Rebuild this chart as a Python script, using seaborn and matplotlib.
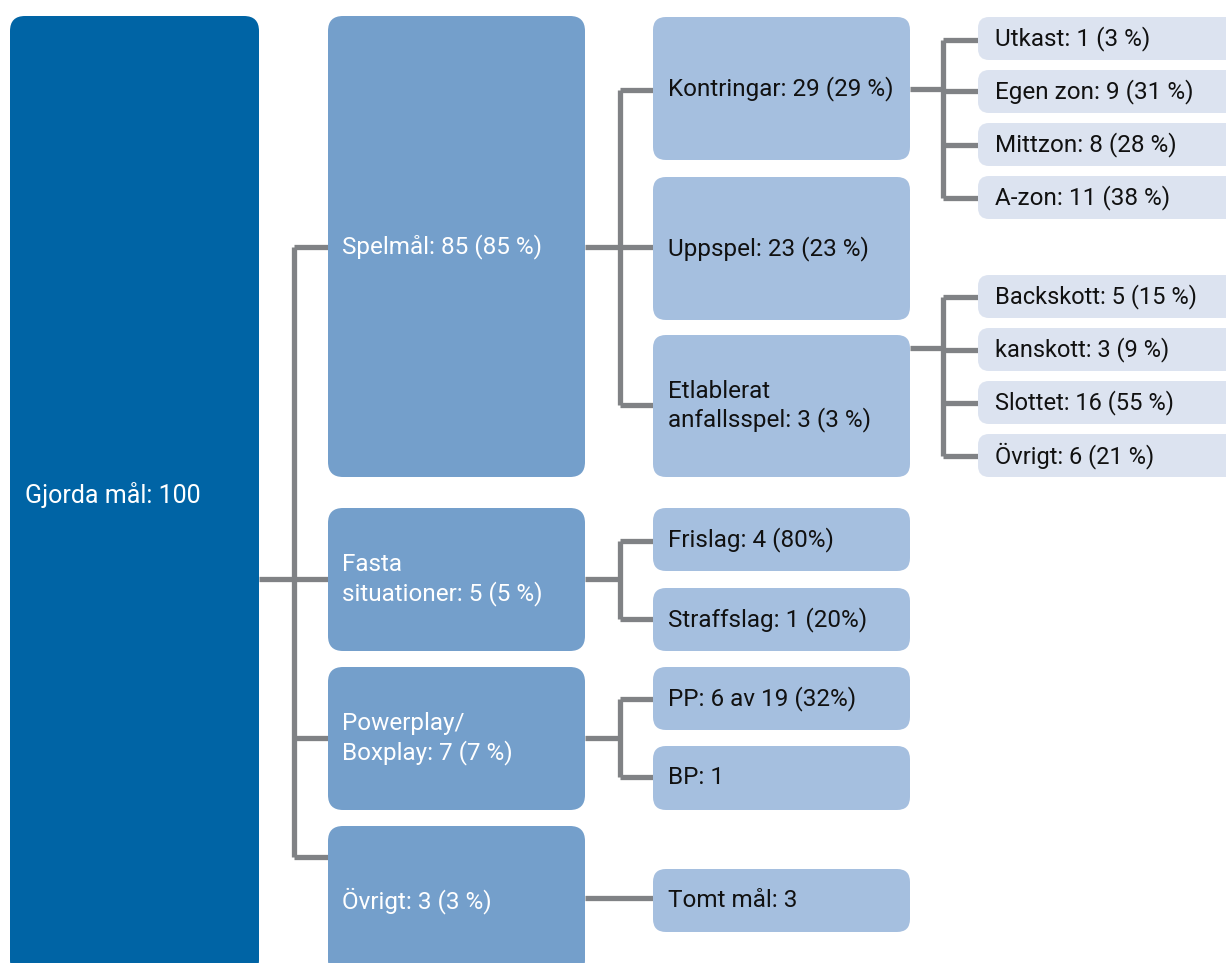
import matplotlib
matplotlib.use("Agg")
import matplotlib.pyplot as plt
from matplotlib.patches import FancyBboxPatch
import seaborn as sns

# --- data ---
root_name = "Gjorda mål"
root_total = 100

level1_names = ["Spelmål", "Fasta\nsituationer", "Powerplay/\nBoxplay", "Övrigt"]
level1_counts = [85, 5, 7, 3]
level1_pct = [85, 5, 7, 3]

spel_names = ["Kontringar", "Uppspel", "Etlablerat\nanfallsspel"]
spel_counts = [29, 23, 3]
spel_pct = [29, 23, 3]

fasta_names = ["Frislag", "Straffslag"]
fasta_counts = [4, 1]
fasta_pct = [80, 20]

pp_labels = ["PP: 6 av 19 (32%)", "BP: 1"]
ovrigt_labels = ["Tomt mål: 3"]

kontring_names = ["Utkast", "Egen zon", "Mittzon", "A-zon"]
kontring_counts = [1, 9, 8, 11]
kontring_pct = [3, 31, 28, 38]

etabl_names = ["Backskott", "kanskott", "Slottet", "Övrigt"]
etabl_counts = [5, 3, 16, 6]
etabl_pct = [15, 9, 55, 21]


def fmt(names, counts, pct, space=" "):
    return [f"{n}: {c} ({p}{space}%)" for n, c, p in zip(names, counts, pct)]


# --- layout (pixel coordinates, y downwards) ---
C_ROOT = "#0064a5"
C_L1 = "#749fcb"
C_L2 = "#a5bfdf"
C_L3 = "#dce3f0"
C_LINE = "#808285"
LW = 3.8
FS = 17.5

sns.set_theme(style="white")
plt.rcParams["font.family"] = ["Liberation Sans Narrow", "Roboto", "DejaVu Sans"]

fig = plt.figure(figsize=(12.26, 9.63), dpi=100)
ax = fig.add_axes([0, 0, 1, 1])
ax.set_xlim(0, 1226)
ax.set_ylim(963, 0)
ax.axis("off")


def box(x0, x1, y0, y1, color, label, tcolor, r=13, pad=15, fs=FS):
    p = FancyBboxPatch((x0, y0), x1 - x0, y1 - y0,
                       boxstyle=f"round,pad=0,rounding_size={r}",
                       fc=color, ec="none", zorder=2)
    ax.add_patch(p)
    ax.text(x0 + pad, (y0 + y1) / 2, label, color=tcolor, fontsize=fs,
            ha="left", va="center", linespacing=1.25, zorder=3)


def line(xs, ys):
    ax.plot(xs, ys, color=C_LINE, lw=LW, solid_capstyle="butt",
            solid_joinstyle="miter", zorder=1)


# connectors
# root -> level 1
line([259, 294], [579, 579])
line([294, 294], [247, 857])
for y in [247, 579, 738, 857]:
    line([294, 328], [y, y])
# Spelmål -> level 2
line([585, 620], [247, 247])
line([620, 620], [90, 405])
for y in [90, 247, 405]:
    line([620, 653], [y, y])
# Kontringar -> level 3
line([910, 943], [89, 89])
line([943, 943], [40, 198])
for y in [40, 91, 145, 198]:
    line([943, 978], [y, y])
# Etablerat -> level 3
line([910, 943], [348, 348])
line([943, 943], [297, 456])
for y in [297, 350, 403, 456]:
    line([943, 978], [y, y])
# Fasta -> level 2
line([585, 620], [579, 579])
line([620, 620], [541, 619])
for y in [541, 619]:
    line([620, 653], [y, y])
# Powerplay -> level 2
line([585, 620], [738, 738])
line([620, 620], [699, 777])
for y in [699, 777]:
    line([620, 653], [y, y])
# Övrigt -> level 2
line([585, 653], [898, 898])

# root
box(10, 259, 16, 975, C_ROOT, f"{root_name}: {root_total}", "white", r=15, pad=15, fs=18)

# level 1
l1_y = [(16, 477), (508, 651), (667, 810), (826, 975)]
for (y0, y1), lab in zip(l1_y, fmt(level1_names, level1_counts, level1_pct)):
    box(328, 585, y0, y1, C_L1, lab, "white", r=15, pad=14)

# level 2
l2_y = [(17, 160), (177, 320), (335, 477)]
for (y0, y1), lab in zip(l2_y, fmt(spel_names, spel_counts, spel_pct)):
    box(653, 910, y0, y1, C_L2, lab, "#111111")
fasta_y = [(508, 571), (588, 651)]
for (y0, y1), lab in zip(fasta_y, fmt(fasta_names, fasta_counts, fasta_pct, space="")):
    box(653, 910, y0, y1, C_L2, lab, "#111111")
pp_y = [(667, 730), (746, 810)]
for (y0, y1), lab in zip(pp_y, pp_labels):
    box(653, 910, y0, y1, C_L2, lab, "#111111")
box(653, 910, 869, 932, C_L2, ovrigt_labels[0], "#111111")

# level 3
k_y = [(17, 60), (70, 113), (123, 166), (176, 219)]
for (y0, y1), lab in zip(k_y, fmt(kontring_names, kontring_counts, kontring_pct)):
    box(978, 1240, y0, y1, C_L3, lab, "#111111", r=11, pad=17)
e_y = [(275, 318), (328, 371), (381, 424), (434, 477)]
for (y0, y1), lab in zip(e_y, fmt(etabl_names, etabl_counts, etabl_pct)):
    box(978, 1240, y0, y1, C_L3, lab, "#111111", r=11, pad=17, fs=17)

fig.savefig("out.png", dpi=100)
